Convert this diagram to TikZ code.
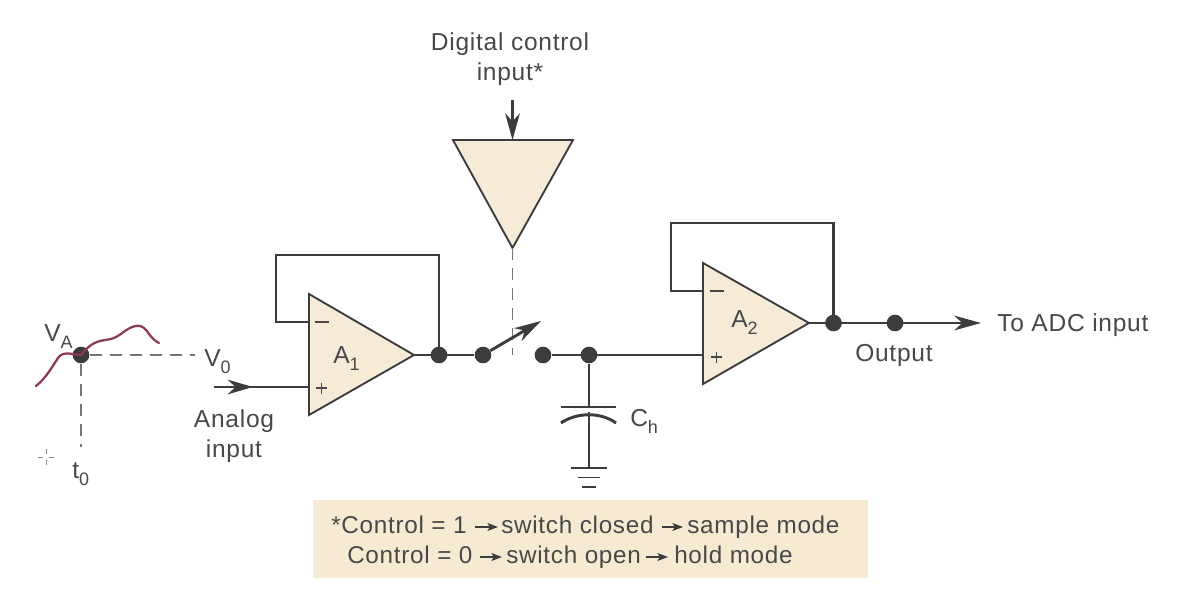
\documentclass[tikz,border=0pt]{standalone}
\usepackage{fontspec}
\setmainfont[LetterSpace=3]{Liberation Sans}
\usetikzlibrary{arrows.meta,decorations.markings,calc}
\definecolor{tan}{HTML}{F5EBD7}
\definecolor{notebg}{HTML}{F6EAD3}
\definecolor{wire}{HTML}{3C3C3C}
\definecolor{txt}{HTML}{484848}
\definecolor{sig}{HTML}{8C3A55}
\newcommand\subs[1]{\raisebox{-.32em}{\fontsize{13.5}{15}\selectfont #1}}
\tikzset{
  lbl/.style={inner sep=0pt,text=txt,font=\fontsize{18.4}{22}\selectfont,align=center},
  notetxt/.style={lbl,anchor=base west,font=\fontsize{18.2}{22}\selectfont},
  wireline/.style={draw=wire,line width=2.2pt},
  thin wire/.style={draw=wire,line width=1.4pt},
  ampbody/.style={draw=wire,line width=1.4pt,fill=tan,line join=miter},
  dashline/.style={draw=wire!70,line width=1pt,dash pattern=on 9pt off 6pt},
  junction/.style={circle,fill=wire,draw=none,minimum size=12.5pt,inner sep=0pt},
  pt/.style={coordinate},
  bigtip/.style={-{Stealth[length=20pt,width=11pt,inset=6pt]}},
  smalltip/.style={draw=wire,line width=.9pt,-{Stealth[length=8pt,width=6pt,inset=2pt]}},
  midtip/.style={postaction={decorate},decoration={markings,mark=at position #1 with {\arrow{Stealth[length=19pt,width=11pt,inset=6pt]}}}},
}
\begin{document}
\begin{tikzpicture}[x=.75pt,y=-.75pt]
\useasboundingbox (0,0) rectangle (1192,610);
% note box
\node[fill=notebg,draw=none,minimum width=416.25pt,minimum height=58.5pt,inner sep=0pt] (note) at (590.5,539) {};

% key points
\node[pt] (a1t) at (309,294) {};
\node[pt] (a1b) at (309,415) {};
\node[pt] (a1o) at (414,355) {};
\node[pt] (a1m) at (309,322) {};
\node[pt] (a1p) at (309,387) {};
\node[pt] (a2t) at (703,263) {};
\node[pt] (a2b) at (703,384) {};
\node[pt] (a2o) at (809,323) {};
\node[pt] (a2m) at (703,291) {};
\node[pt] (a2p) at (703,355) {};
\node[pt] (dl) at (453,140) {};
\node[pt] (dr) at (573,140) {};
\node[pt] (dt) at (512.5,248) {};
\node[pt] (din) at (512.5,100) {};
\node[pt] (dtop) at (512.5,140) {};
\node[pt] (ain) at (214,387) {};
\node[pt] (fb1a) at (276,322) {};
\node[pt] (fb1b) at (276,255) {};
\node[pt] (fb1c) at (439,255) {};
\node[pt] (fb2a) at (671,291) {};
\node[pt] (fb2b) at (671,223) {};
\node[pt] (fb2c) at (833.5,223) {};
\node[pt] (swtip) at (541,321) {};
\node[pt] (swdash) at (512.5,355) {};
\node[pt] (capT) at (589,407) {};
\node[pt] (capB) at (589,412) {};
\node[pt] (gnd) at (589,468) {};
\node[pt] (outend) at (981,323) {};
\node[pt] (v0end) at (195,355) {};
\node[pt] (t0end) at (81,447) {};

% amps and driver
\draw[ampbody] (a1t) -- (a1o) -- (a1b) -- cycle;
\draw[ampbody] (a2t) -- (a2o) -- (a2b) -- cycle;
\draw[ampbody] (dl) -- (dr) -- (dt) -- cycle;

% junctions
\node[junction] (j0) at (81,355) {};
\node[junction] (j1) at (439,355) {};
\node[junction] (s1) at (483,355) {};
\node[junction] (s2) at (543,355) {};
\node[junction] (j3) at (589,355) {};
\node[junction] (j4) at (833.5,323) {};
\node[junction] (j5) at (895,323) {};

% signal curve
\draw[draw=sig,line width=1.7pt,line cap=round] (36,386) .. controls (46,378) and (52,367) .. (58,358)
  .. controls (63,351) and (70,354) .. (81,355) .. controls (88,347) and (92,342) .. (105,340)
  .. controls (115,339) and (118,336) .. (125,331) .. controls (134,325) and (142,322) .. (149,334)
  .. controls (152,338) and (155,341) .. (159,343);

% dashed lines
\draw[dashline] (j0) -- (v0end);
\draw[dashline] (j0) -- (t0end);
\draw[dashline] (dt) -- (swdash);

% wires
\draw[wireline,midtip=.41] (ain) -- (a1p);
\draw[wireline,line join=miter] (a1m) -- (fb1a) -- (fb1b) -- (fb1c) -- (j1.center);
\draw[wireline] (a1o) -- (s1);
\draw[wireline,bigtip] (s1) -- (swtip);
\draw[wireline] (s2) -- (a2p);
\draw[wireline] (j3) -- (capT);
\draw[wireline] (capB) -- (gnd);
\draw[wireline,line join=miter] (a2m) -- (fb2a) -- (fb2b) -- (fb2c) -- (j4.center);
\draw[wireline,bigtip] (a2o) -- (outend);
\draw[wireline,bigtip] (din) -- (dtop);

% capacitor
\draw[wireline] ($(capT)+(-28,0)$) -- ($(capT)+(27,0)$);
\draw[wireline] ($(capB)+(-28,11)$) .. controls ($(capB)+(-12,0)$) and ($(capB)+(12,0)$) .. ($(capB)+(27,11)$);
% ground
\draw[thin wire] ($(gnd)+(-18,0)$) -- ($(gnd)+(18,0)$);
\draw[thin wire] ($(gnd)+(-11,9.5)$) -- ($(gnd)+(11,9.5)$);
\draw[thin wire] ($(gnd)+(-7,19)$) -- ($(gnd)+(7,19)$);

% op amp signs
\draw[thin wire,draw=txt] (315,322) -- (329,322);
\draw[thin wire,draw=txt] (316,388) -- (327,388) (321.5,382.5) -- (321.5,393.5);
\draw[thin wire,draw=txt] (710,291) -- (724,291);
\draw[thin wire,draw=txt] (711,357) -- (722,357) (716.5,351.5) -- (716.5,362.5);

% cursor mark
\draw[draw=wire!60,line width=.4pt] (38,457) -- (43,457) (49,457) -- (54,457) (46,449) -- (46,454) (46,460) -- (46,465);

% labels
\node[lbl] (ldig) at (510,59) {Digital control\\input*};
\node[lbl,anchor=base west] (lva) at (44,341) {V\subs{A}};
\node[lbl,anchor=base west] (lv0) at (204,366) {V\subs{0}};
\node[lbl,anchor=base west] (lt0) at (72,478) {t\subs{0}};
\node[lbl] (lana) at (234,436) {Analog\\input};
\node[lbl,anchor=base west] (la1) at (333,363) {A\subs{1}};
\node[lbl,anchor=base west] (la2) at (731,327) {A\subs{2}};
\node[lbl,anchor=base west] (lch) at (630,426) {C\subs{h}};
\node[lbl,anchor=base west] (lout) at (855,361) {Output};
\node[lbl,anchor=base west] (lto) at (997,331) {To ADC input};

% note text
\node[notetxt] (n1) at (331,533) {*Control = 1};
\node[pt] (n1a) at (475,527) {};
\node[pt] (n1b) at (498,527) {};
\node[notetxt] (n2) at (501,533) {switch closed};
\node[pt] (n2a) at (662,527) {};
\node[pt] (n2b) at (683,527) {};
\node[notetxt] (n3) at (687,533) {sample mode};
\node[notetxt] (n4) at (347,563) {Control = 0};
\node[pt] (n4a) at (480,557) {};
\node[pt] (n4b) at (502,557) {};
\node[notetxt] (n5) at (506,563) {switch open};
\node[pt] (n5a) at (646,557) {};
\node[pt] (n5b) at (668,557) {};
\node[notetxt] (n6) at (674,563) {hold mode};
\draw[smalltip] (n1a) -- (n1b);
\draw[smalltip] (n2a) -- (n2b);
\draw[smalltip] (n4a) -- (n4b);
\draw[smalltip] (n5a) -- (n5b);
\end{tikzpicture}
\end{document}
